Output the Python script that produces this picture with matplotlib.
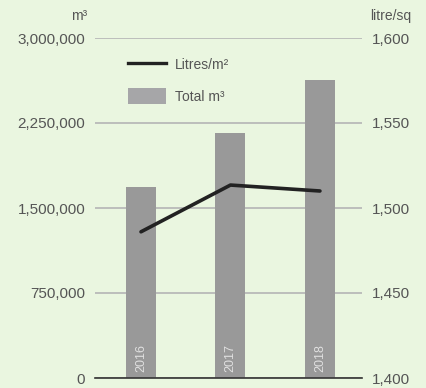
import matplotlib
matplotlib.use("Agg")
import matplotlib.pyplot as plt
from matplotlib.lines import Line2D
from matplotlib.patches import Patch

# veriler
yillar = ['2016', '2017', '2018']
toplam_m3 = [1685000, 2162000, 2629000]
litre_m2 = [1486, 1513.5, 1510]
sol_ticks = [0, 750000, 1500000, 2250000, 3000000]
sag_ticks = [1400, 1450, 1500, 1550, 1600]

plt.rcParams['font.family'] = ['Liberation Sans', 'DejaVu Sans']
bg = '#eaf6e0'

fig = plt.figure(figsize=(4.26, 3.88), dpi=100, facecolor=bg)
ax = fig.add_axes([95/426, 10/388, 267/426, 340/388])
ax.set_facecolor(bg)
ax2 = ax.twinx()

x = list(range(len(yillar)))
ax.bar(x, toplam_m3, width=0.335, color='#999999', zorder=2)
for xi, yil in zip(x, yillar):
    ax.text(xi, 50000, yil, rotation=90, ha='center', va='bottom',
            color='#e0e0e0', fontsize=9, zorder=3)

ax2.plot(x, litre_m2, color='#222222', lw=2.6, solid_capstyle='round', zorder=4)

ax.set_xlim(-0.514, 2.47)
ax.set_ylim(0, 3000000)
ax2.set_ylim(1400, 1600)
ax.set_yticks(sol_ticks)
ax.set_yticklabels([f'{v:,}' for v in sol_ticks])
ax2.set_yticks(sag_ticks)
ax2.set_yticklabels([f'{v:,}' for v in sag_ticks])
ax.set_xticks([])

ax.grid(axis='y', color='#b5b5b5', lw=1.2, zorder=1)
ax.set_axisbelow(True)
for a in (ax, ax2):
    for s in a.spines.values():
        s.set_visible(False)
    a.tick_params(axis='y', length=0, pad=7, labelsize=11, labelcolor='#555555')
ax.spines['bottom'].set_visible(True)
ax.spines['bottom'].set_color('#333333')
ax.spines['bottom'].set_linewidth(1.2)

ax.text(-0.03, 1.045, 'm³', transform=ax.transAxes, ha='right', va='bottom',
        fontsize=10, color='#555555')
ax2.text(1.03, 1.045, 'litre/sq', transform=ax.transAxes, ha='left', va='bottom',
         fontsize=10, color='#555555')

handles = [Line2D([0], [0], color='#222222', lw=2.4),
           Patch(facecolor='#a6a6a8', edgecolor='none')]
leg = ax2.legend(handles, ['Litres/m²', 'Total m³'], loc='upper left',
                 bbox_to_anchor=(0.075, 0.983), frameon=False, fontsize=10,
                 handlelength=2.8, handleheight=1.4, labelspacing=1.15,
                 handletextpad=0.6)
for t in leg.get_texts():
    t.set_color('#555555')

fig.savefig('out.png', dpi=100, facecolor=bg)
